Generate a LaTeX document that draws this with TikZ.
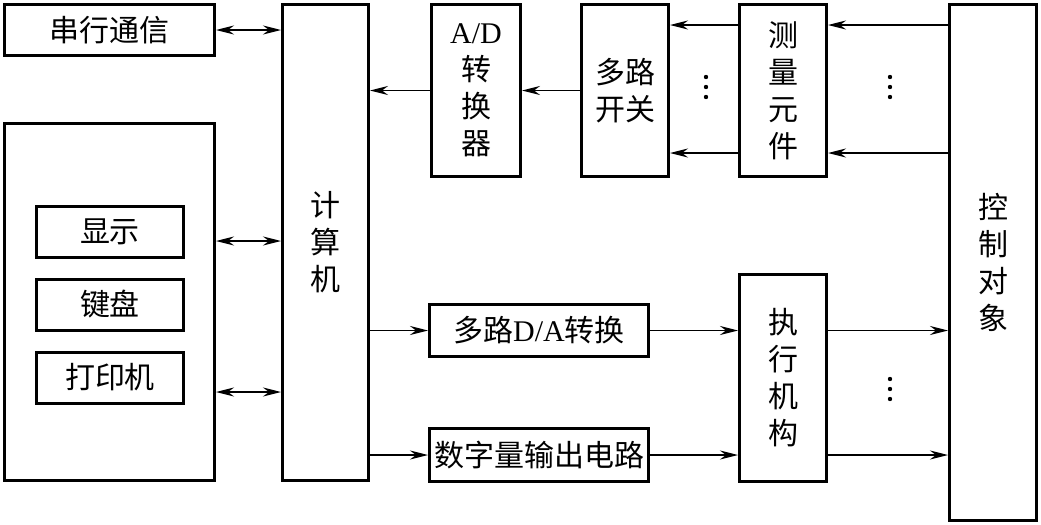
\documentclass[tikz,border=0pt]{standalone}
\usepackage{fontspec}
\setmainfont{Noto Sans CJK SC}
\newfontfamily\latin{Liberation Serif}
\usetikzlibrary{positioning, arrows.meta}
\tikzset{
    blk/.style={rectangle, draw, line width=1.5pt, inner sep=0pt, align=center, font=\fontsize{15}{18.5}\selectfont},
    arrow/.style={-{Stealth[length=9pt, width=4.5pt, inset=3pt]}, line width=0.7pt},
    darrow/.style={{Stealth[length=9pt, width=4.5pt, inset=3pt]}-{Stealth[length=9pt, width=4.5pt, inset=3pt]}, line width=0.7pt},
}

\begin{document}
\begin{tikzpicture}[x=0.5pt, y=-0.5pt, node distance=9.5pt]
    \useasboundingbox (0,0) rectangle (1041,525);
    % left side
    \node[blk, minimum width=105pt, minimum height=25.5pt] (serial) at (109.5,30) {串行通信};
    \node[blk, minimum width=105pt, minimum height=178.5pt] (io) at (109.5,302) {};
    \node[blk, minimum width=73.5pt, minimum height=25.5pt] (disp) at (110,231.5) {显示};
    \node[blk, minimum width=73.5pt, minimum height=25.5pt, below=of disp] (kbd) {键盘};
    \node[blk, minimum width=73.5pt, minimum height=25.5pt, below=of kbd] (prn) {打印机};
    \node[blk, minimum width=43pt, minimum height=238pt] (cpu) at (325.5,242.5) {计\\算\\机};
    % input channel
    \node[blk, minimum width=44.5pt, minimum height=86pt] (adc) at (476,90.5) {{\latin A/D}\\转\\换\\器};
    \node[blk, minimum width=43.5pt, minimum height=86pt] (mux) at (625,90.5) {多路\\开关};
    \node[blk, minimum width=43.5pt, minimum height=86pt] (sens) at (783,90.5) {测\\量\\元\\件};
    \node[blk, minimum width=43.5pt, minimum height=258pt] (plant) at (993,262.5) {控\\制\\对\\象};
    % output channel
    \node[blk, minimum width=109.5pt, minimum height=26pt] (dac) at (539,330.5) {多路{\latin D/A}转换};
    \node[blk, minimum width=109.5pt, minimum height=26.5pt] (dout) at (539,455) {数字量输出电路};
    \node[blk, minimum width=43.5pt, minimum height=103.5pt] (act) at (783,378) {执\\行\\机\\构};

    \coordinate (l1) at ([yshift=30.5pt]io.east);
    \coordinate (l2) at ([yshift=-45pt]io.east);
    \coordinate (s1) at ([yshift=32.75pt]sens.west);
    \coordinate (s2) at ([yshift=-31.25pt]sens.west);

    \draw[darrow] (serial.east) -- (serial.east -| cpu.west);
    \draw[darrow] (l1) -- (l1 -| cpu.west);
    \draw[darrow] (l2) -- (l2 -| cpu.west);
    \draw[arrow] (adc.west) -- (adc.west -| cpu.east);
    \draw[arrow] (mux.west) -- (adc.east);
    \draw[arrow] (s1) -- (s1 -| mux.east);
    \draw[arrow] (s2) -- (s2 -| mux.east);
    \draw[arrow] (s1 -| plant.west) -- (s1 -| sens.east);
    \draw[arrow] (s2 -| plant.west) -- (s2 -| sens.east);
    \draw[arrow] (dac.west -| cpu.east) -- (dac.west);
    \draw[arrow] (dout.west -| cpu.east) -- (dout.west);
    \draw[arrow] (dac.east) -- (dac.east -| act.west);
    \draw[arrow] (dout.east) -- (dout.east -| act.west);
    \draw[arrow] (dac.east -| act.east) -- (dac.east -| plant.west);
    \draw[arrow] (dout.east -| act.east) -- (dout.east -| plant.west);

    % dots for the channels not drawn
    \foreach \xx in {706,890} \foreach \yy in {77,87,97} \fill (\xx,\yy) circle[radius=1.1pt];
    \foreach \yy in {379,389,399} \fill (890,\yy) circle[radius=1.1pt];
\end{tikzpicture}
\end{document}
